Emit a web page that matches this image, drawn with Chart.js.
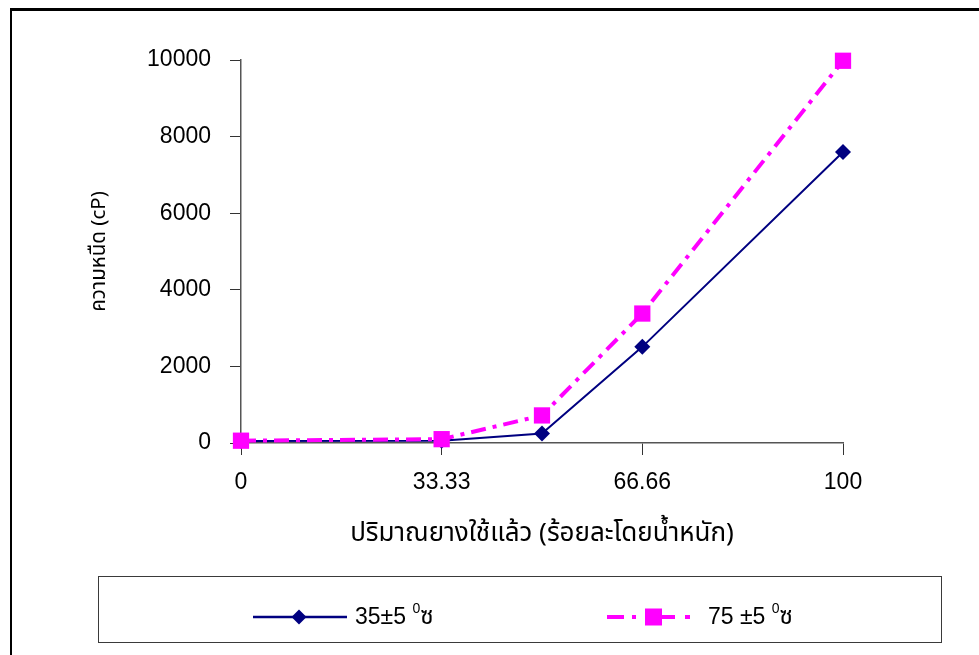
<!DOCTYPE html>
<html>
<head>
<meta charset="utf-8">
<script src="https://cdn.jsdelivr.net/npm/chart.js@4.4.0/dist/chart.umd.min.js"></script>
<style>
  html, body { margin: 0; padding: 0; background: #fff; }
  #wrap { position: relative; width: 979px; height: 655px; overflow: hidden; font-family: "Liberation Sans", Arial, sans-serif; }
  #frame { position: absolute; left: 10px; top: 8px; right: -20px; bottom: -20px; border-top: 3px solid #000; border-left: 2px solid #000; }
  #chart { position: absolute; left: 0; top: 0; }
  #legendBox { position: absolute; left: 98px; top: 576px; width: 842px; height: 65px; border: 1px solid #3a3a3a; }
  .sym { position: absolute; }
  .lt { position: absolute; font-size: 23px; line-height: 23px; color: #000; white-space: nowrap; }
  .lt sup { font-size: 14px; vertical-align: 11px; line-height: 0; }
  .th { font-family: "Noto Sans Thai", "Noto Sans", "DejaVu Sans", "Liberation Sans", sans-serif; font-size: 24px; }
</style>
</head>
<body>
<div id="wrap">
  <div id="frame"></div>
  <canvas id="chart" width="979" height="655"></canvas>

  <div id="legendBox"></div>
  <svg class="sym" style="left:250px;top:607px" width="100" height="20">
    <line x1="3" y1="10" x2="97" y2="10" stroke="#000080" stroke-width="2.5"/>
    <polygon points="49,2.5 56.5,10 49,17.5 41.5,10" fill="#000080"/>
  </svg>
  <div class="lt" style="left:355px;top:605px">35±5 <sup>0</sup><span class="th">ซ</span></div>

  <svg class="sym" style="left:604px;top:607px" width="100" height="20">
    <g stroke="#ff00ff" stroke-width="4">
      <line x1="3" y1="10" x2="20" y2="10"/>
      <line x1="28" y1="10" x2="32" y2="10"/>
      <line x1="58" y1="10" x2="71" y2="10"/>
      <line x1="81" y1="10" x2="86" y2="10"/>
    </g>
    <rect x="41" y="1.5" width="17" height="17" fill="#ff00ff"/>
  </svg>
  <div class="lt" style="left:708px;top:605px">75 ±5 <sup>0</sup><span class="th">ซ</span></div>
</div>

<script>
// ---- data ----
const usedRubber = [0, 33.33, 50, 66.66, 100];          // % by weight
const visc35 = [50, 60, 250, 2510, 7600];               // cP at 35±5 °C
const visc75 = [60, 100, 720, 3380, 9980];              // cP at 75±5 °C
const xTicks = [0, 33.33, 66.66, 100];
const yTicks = [0, 2000, 4000, 6000, 8000, 10000];

const THAI = '"Noto Sans Thai", "Noto Sans", "DejaVu Sans", "Liberation Sans", sans-serif';
const LATIN = '"Liberation Sans", Arial, sans-serif';

const pts = (ys) => usedRubber.map((x, i) => ({ x, y: ys[i] }));

new Chart(document.getElementById("chart"), {
  type: "line",
  data: {
    datasets: [
      {
        label: "35±5 ⁰ซ",
        data: pts(visc35),
        borderColor: "#000080",
        backgroundColor: "#000080",
        borderWidth: 2,
        pointStyle: "rectRot",
        pointRadius: 8,
        pointHoverRadius: 8,
        pointBorderWidth: 0,
        tension: 0,
        clip: false,
        order: 2
      },
      {
        label: "75 ±5 ⁰ซ",
        data: pts(visc75),
        borderColor: "#ff00ff",
        backgroundColor: "#ff00ff",
        borderWidth: 4,
        borderDash: [15, 7, 4, 7],
        pointStyle: "rect",
        pointRadius: 11.5,
        pointHoverRadius: 11.5,
        pointBorderWidth: 0,
        tension: 0,
        clip: false,
        order: 1
      }
    ]
  },
  options: {
    responsive: false,
    animation: false,
    layout: { padding: { left: 0, top: 60, right: 136, bottom: 0 } },
    plugins: { legend: { display: false }, tooltip: { enabled: false } },
    scales: {
      x: {
        type: "linear",
        min: 0,
        max: 100,
        afterBuildTicks: (s) => { s.ticks = xTicks.map(v => ({ value: v })); },
        afterFit: (s) => { s.height = 212; },
        ticks: {
          color: "#000",
          padding: 14,
          font: { family: LATIN, size: 23 },
          maxRotation: 0,
          callback: (v) => String(v)
        },
        grid: { drawOnChartArea: false, drawTicks: true, tickLength: 12, color: "#333" },
        border: { display: true, color: "#555", width: 1.5 },
        title: {
          display: true,
          text: "ปริมาณยางใช้แล้ว (ร้อยละโดยน้ำหนัก)",
          color: "#000",
          font: { family: THAI, size: 26 },
          align: "center",
          padding: { top: 0, bottom: 104 }
        }
      },
      y: {
        min: 0,
        max: 10000,
        afterBuildTicks: (s) => { s.ticks = yTicks.map(v => ({ value: v })); },
        afterFit: (s) => { s.width = 241; },
        ticks: {
          color: "#000",
          padding: 19,
          font: { family: LATIN, size: 23 },
          callback: (v) => String(v)
        },
        grid: { drawOnChartArea: false, drawTicks: true, tickLength: 11, color: "#333" },
        border: { display: true, color: "#555", width: 1.5 },
        title: {
          display: true,
          text: "ความหนืด (cP)",
          color: "#000",
          font: { family: THAI, size: 20.5 },
          padding: { top: 89, bottom: 0 }
        }
      }
    }
  }
});
</script>
</body>
</html>
